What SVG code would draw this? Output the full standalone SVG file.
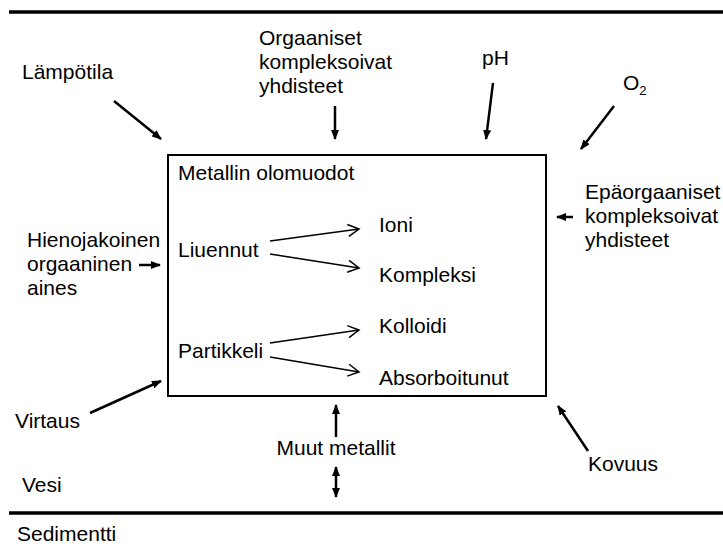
<svg xmlns="http://www.w3.org/2000/svg" width="723" height="551" viewBox="0 0 723 551">
<defs>
<style>
text{font-family:"Liberation Sans",Arial,sans-serif;font-size:21px;fill:#000}
.sub{font-size:13px}
.thick{stroke:#000;stroke-width:2.5;fill:none}
.thin{stroke:#000;stroke-width:1.5;fill:none}
.rule{stroke:#000;stroke-width:3.5}
</style>
<marker id="fa" markerUnits="userSpaceOnUse" markerWidth="10" markerHeight="8" viewBox="0 0 10 8" refX="9" refY="4" orient="auto-start-reverse"><path d="M0,0 L10,4 L0,8 z" fill="#000"/></marker>
<marker id="oa" markerUnits="userSpaceOnUse" markerWidth="14" markerHeight="14" viewBox="0 0 14 14" refX="12" refY="7" orient="auto"><path d="M1,1 L12,7 L1,13" fill="none" stroke="#000" stroke-width="1.5"/></marker>
</defs>
<rect width="723" height="551" fill="#fff"/>
<g id="layers">
<line class="rule" x1="9" y1="12" x2="723" y2="12"/>
<line class="rule" x1="9" y1="513" x2="723" y2="513"/>
<text x="22" y="492">Vesi</text>
<text x="17" y="541">Sedimentti</text>
</g>
<g id="box">
<rect x="168" y="155" width="378" height="241" fill="none" stroke="#000" stroke-width="2"/>
<text x="178" y="180">Metallin olomuodot</text>
</g>
<g id="liuennut"><text x="178" y="257">Liuennut</text></g>
<g id="ioni"><text x="379" y="232">Ioni</text></g>
<g id="kompleksi"><text x="379" y="282">Kompleksi</text></g>
<g id="partikkeli"><text x="178" y="358">Partikkeli</text></g>
<g id="kolloidi"><text x="379" y="333">Kolloidi</text></g>
<g id="absorboitunut"><text x="379" y="385">Absorboitunut</text></g>
<g id="lampotila"><text x="22" y="79">Lämpötila</text></g>
<g id="orgaaniset"><text x="259" y="45">Orgaaniset</text><text x="259" y="69">kompleksoivat</text><text x="259" y="93">yhdisteet</text></g>
<g id="ph"><text x="482" y="65">pH</text></g>
<g id="o2"><text x="623" y="90">O<tspan class="sub" dy="5">2</tspan></text></g>
<g id="epaorgaaniset"><text x="585" y="199">Epäorgaaniset</text><text x="585" y="223">kompleksoivat</text><text x="585" y="247">yhdisteet</text></g>
<g id="hienojakoinen"><text x="27" y="247">Hienojakoinen</text><text x="27" y="271">orgaaninen</text><text x="27" y="295">aines</text></g>
<g id="virtaus"><text x="15" y="428">Virtaus</text></g>
<g id="muut"><text x="336" y="455" text-anchor="middle">Muut metallit</text></g>
<g id="kovuus"><text x="588" y="471">Kovuus</text></g>
<g id="connectors">
<line class="thick" x1="114" y1="101" x2="161" y2="139" marker-end="url(#fa)"/>
<line class="thick" x1="335" y1="106" x2="335" y2="139" marker-end="url(#fa)"/>
<line class="thick" x1="493" y1="83" x2="486" y2="139" marker-end="url(#fa)"/>
<line class="thick" x1="614" y1="106" x2="581" y2="149" marker-end="url(#fa)"/>
<line class="thick" x1="573" y1="217" x2="557" y2="217" marker-end="url(#fa)"/>
<line class="thick" x1="139" y1="265" x2="160" y2="265" marker-end="url(#fa)"/>
<line class="thick" x1="90" y1="413" x2="161" y2="381" marker-end="url(#fa)"/>
<line class="thick" x1="336" y1="437" x2="336" y2="405" marker-end="url(#fa)"/>
<line class="thick" x1="336" y1="467" x2="336" y2="497" marker-start="url(#fa)" marker-end="url(#fa)"/>
<line class="thick" x1="588" y1="451" x2="558" y2="406" marker-end="url(#fa)"/>
<line class="thin" x1="270" y1="241" x2="359" y2="229" marker-end="url(#oa)"/>
<line class="thin" x1="270" y1="254" x2="359" y2="268" marker-end="url(#oa)"/>
<line class="thin" x1="270" y1="343" x2="359" y2="330" marker-end="url(#oa)"/>
<line class="thin" x1="270" y1="357" x2="359" y2="372" marker-end="url(#oa)"/>
</g>
</svg>
